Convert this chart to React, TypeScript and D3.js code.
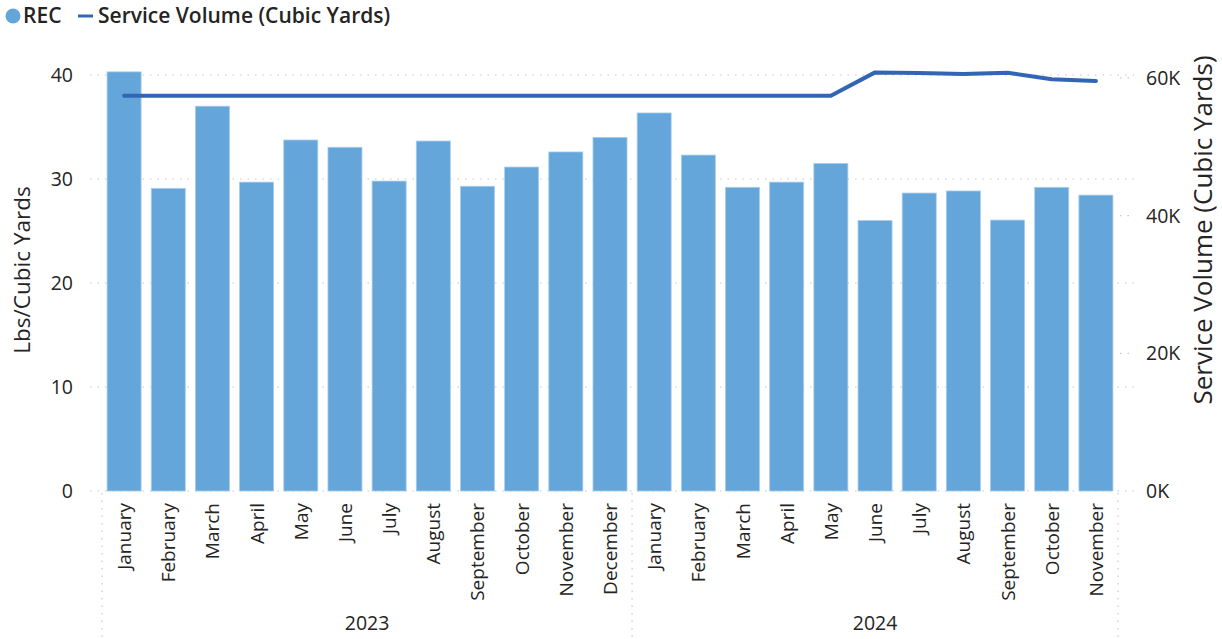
import React from "react";
import * as d3 from "d3";

const months = ["January","February","March","April","May","June","July","August","September","October","November","December","January","February","March","April","May","June","July","August","September","October","November"];
const recValues = [40.3,29.1,37.0,29.7,33.75,33.05,29.8,33.65,29.3,31.15,32.6,34.0,36.35,32.3,29.2,29.7,31.5,26.0,28.65,28.85,26.05,29.2,28.45];
const serviceVolume = [57400,57400,57400,57400,57400,57400,57400,57400,57400,57400,57400,57400,57400,57400,57400,57400,57400,60800,60700,60550,60750,59800,59550];
const leftTicks = [0,10,20,30,40];
const rightTicks = [0,20000,40000,60000];
const yearLabels = ["2023","2024"];

const FONT = "'Segoe UI', 'Open Sans', 'Noto Sans', sans-serif";
const BAR = "#64A5DA";
const LINE = "#3266B4";
const TXT = "#252423";

export default function App() {
  const W = 1222, H = 639;
  const x0 = 102, x1 = 1118, yTop = 75, yBot = 491;
  const idx = months.map((_, i) => String(i));
  const x = d3.scaleBand<string>().domain(idx).range([x0, x1]).paddingInner(0.23).paddingOuter(0.115);
  const yL = d3.scaleLinear().domain([0, 40]).range([yBot, yTop]);
  const yR = d3.scaleLinear().domain([0, 60000]).range([yBot, yBot - 3 * 137.7]);
  const cx = (i: number) => (x(String(i)) as number) + x.bandwidth() / 2;
  const line = d3.line<number>().x((_, i) => cx(i)).y(d => yR(d));
  const step = x.step();
  const groupEdges = [x0, x0 + 12 * step, x1];

  return (
    <svg width={W} height={H} style={{ display: "block", position: "absolute", left: 0, top: 0 }} fontFamily={FONT}>
      {/* legend */}
      <circle cx={13} cy={16} r={7.5} fill={BAR} />
      <text x={23} y={23} fontSize={21} fontWeight={600} fill={TXT}>REC</text>
      <line x1={78} x2={93} y1={16} y2={16} stroke={LINE} strokeWidth={3} />
      <text x={98} y={23} fontSize={21} fontWeight={600} fill={TXT}>Service Volume (Cubic Yards)</text>

      {/* gridlines */}
      {leftTicks.map(t => (
        <line key={"g" + t} x1={x0 - 12} x2={1134} y1={yL(t)} y2={yL(t)} stroke="#C8C8C8" strokeDasharray="1.5,6" strokeWidth={1.2} />
      ))}
      {rightTicks.filter(t => t > 0).map(t => (
        <line key={"gr" + t} x1={x1 + 2} x2={1134} y1={yR(t)} y2={yR(t)} stroke="#C8C8C8" strokeDasharray="1.5,6" strokeWidth={1.2} />
      ))}

      {/* bars */}
      {recValues.map((v, i) => (
        <rect key={"b" + i} x={x(String(i))} y={yL(v)} width={x.bandwidth()} height={yBot - yL(v)} fill={BAR} stroke="#A9CDEB" strokeWidth={0.8} />
      ))}

      {/* line */}
      <path d={line(serviceVolume) || ""} fill="none" stroke={LINE} strokeWidth={4} strokeLinejoin="round" strokeLinecap="round" />

      {/* left axis labels */}
      {leftTicks.map(t => (
        <text key={"l" + t} x={73} y={yL(t) + 7} textAnchor="end" fontSize={19.5} fill={TXT}>{t}</text>
      ))}
      {/* right axis labels */}
      {rightTicks.map(t => (
        <text key={"r" + t} x={1146} y={yR(t) + 7} textAnchor="start" fontSize={19.5} fill={TXT}>{d3.format(".0f")(t / 1000) + "K"}</text>
      ))}

      {/* axis titles */}
      <text transform={`translate(30,270) rotate(-90)`} textAnchor="middle" fontSize={22.5} fill={TXT}>Lbs/Cubic Yards</text>
      <text transform={`translate(1212,230) rotate(-90)`} textAnchor="middle" fontSize={26} fill={TXT}>Service Volume (Cubic Yards)</text>

      {/* month labels */}
      {months.map((m, i) => (
        <text key={"m" + i} transform={`translate(${cx(i) + 7},503) rotate(-90)`} textAnchor="end" fontSize={19} fill={TXT}>{m}</text>
      ))}

      {/* group separators */}
      {groupEdges.map((gx, i) => (
        <line key={"s" + i} x1={gx} x2={gx} y1={yBot + 2} y2={H} stroke="#C8C8C8" strokeDasharray="1.5,6" strokeWidth={1.2} />
      ))}
      {yearLabels.map((yl, i) => (
        <text key={"y" + i} x={(groupEdges[i] + groupEdges[i + 1]) / 2} y={630} textAnchor="middle" fontSize={19.5} fill={TXT}>{yl}</text>
      ))}
    </svg>
  );
}
